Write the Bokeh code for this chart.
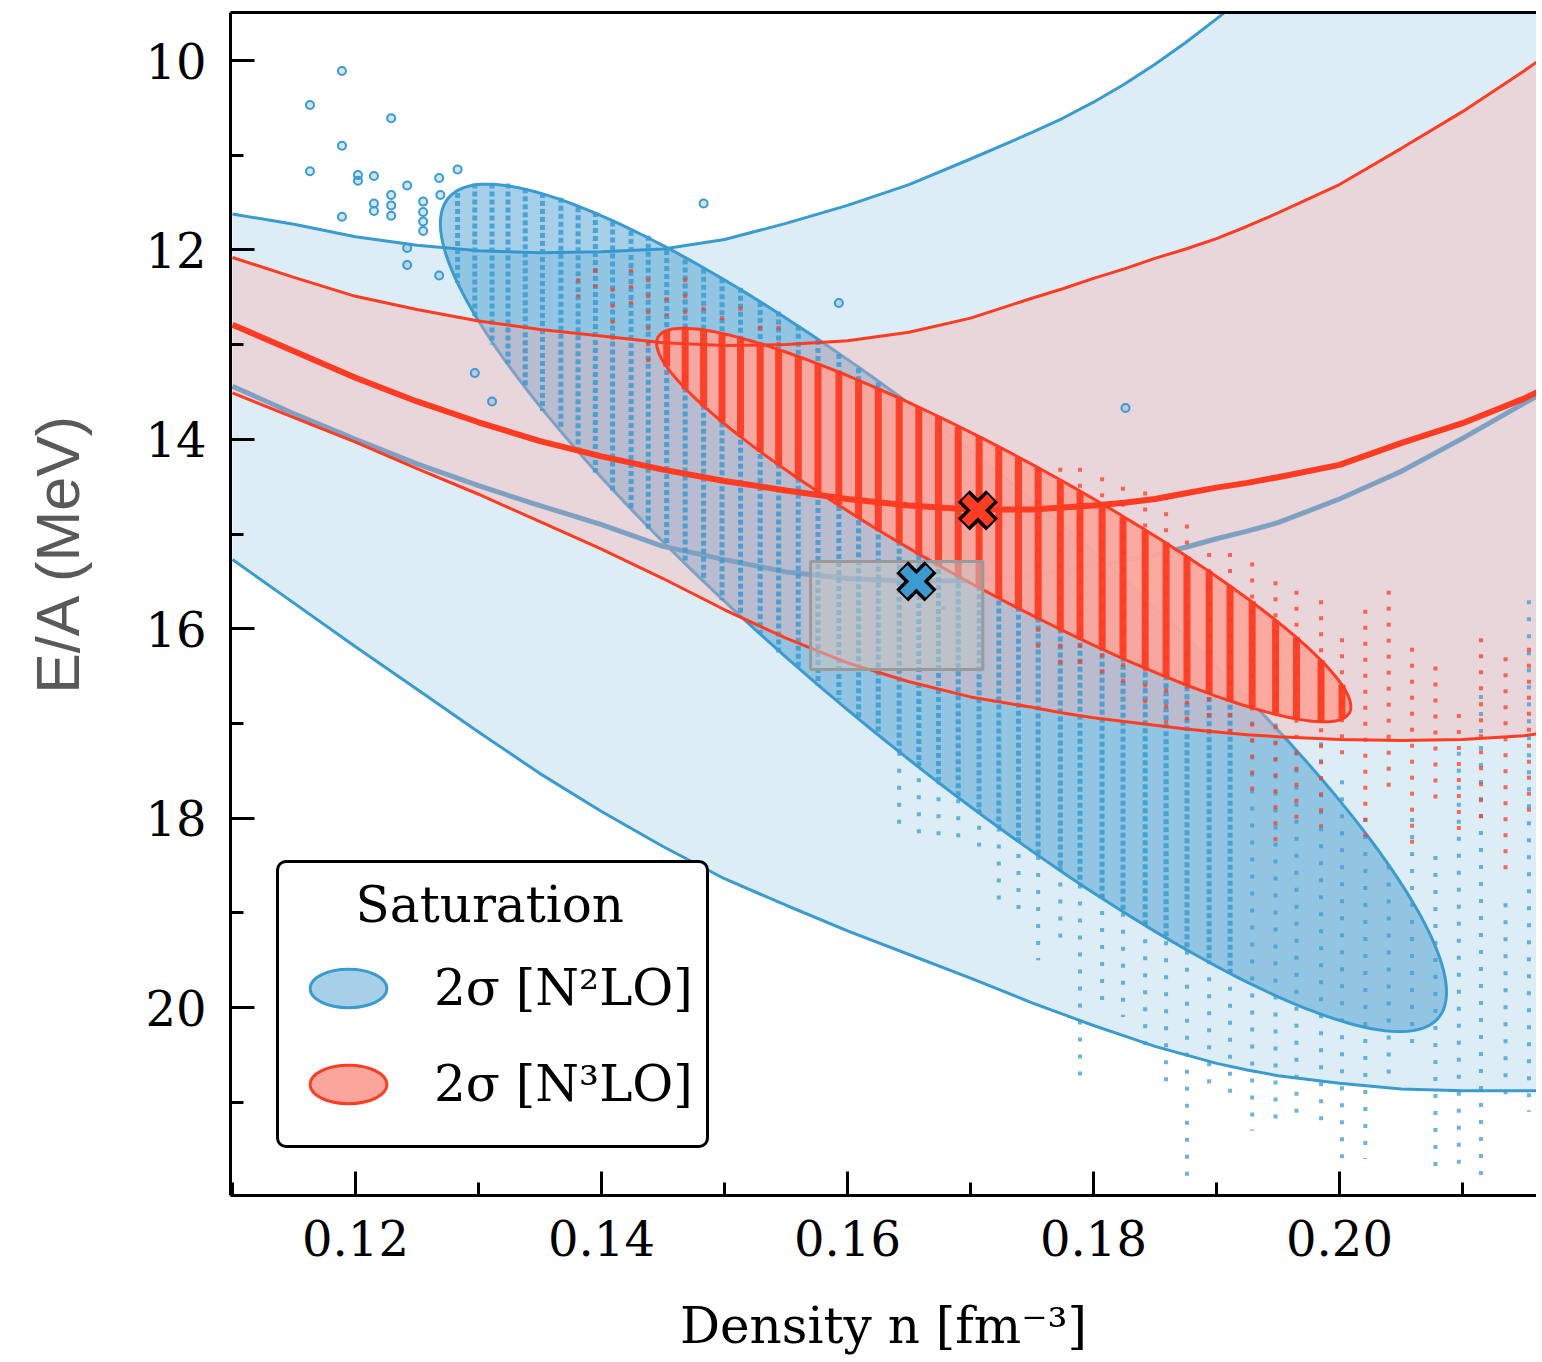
import numpy as np
from bokeh.plotting import figure
from bokeh.models import (Range1d, FixedTicker, NumeralTickFormatter, LinearAxis,
                          Legend, LegendItem)
from bokeh.embed import file_html
from bokeh.resources import INLINE

# ---------------- data ----------------
# density grid (fm^-3) for the equation-of-state bands
n_grid = [0.110, 0.115, 0.120, 0.125, 0.130, 0.135, 0.140, 0.145, 0.150, 0.155, 0.160,
          0.165, 0.170, 0.175, 0.1775, 0.180, 0.1825, 0.185, 0.1875, 0.190, 0.1925, 0.195,
          0.200, 0.205, 0.210, 0.215, 0.2161]
# |E/A| (MeV); values beyond the top of the frame are above 9.5
n2lo_upper = [11.62, 11.73, 11.86, 11.95, 12.01, 12.03, 12.02, 11.99, 11.89, 11.72, 11.53,
              11.31, 11.04, 10.76, 10.61, 10.44, 10.25, 10.04, 9.81, 9.56, 9.30, 9.03,
              8.40, 7.70, 6.90, 6.00, 5.80]
n2lo_lower = [15.27, 15.73, 16.19, 16.64, 17.09, 17.53, 17.93, 18.30, 18.64, 18.92, 19.19,
              19.44, 19.69, 19.95, 20.07, 20.19, 20.30, 20.41, 20.50, 20.59, 20.66, 20.72,
              20.80, 20.86, 20.88, 20.88, 20.88]
n2lo_central = [13.44, 13.73, 14.00, 14.26, 14.49, 14.70, 14.90, 15.13, 15.27, 15.40, 15.47,
                15.50, 15.49, 15.44, 15.39, 15.34, 15.28, 15.22, 15.14, 15.05, 14.97, 14.88,
                14.63, 14.34, 13.99, 13.62, 13.54]
n3lo_upper = [12.08, 12.29, 12.49, 12.63, 12.75, 12.84, 12.91, 12.98, 13.01, 13.00, 12.96,
              12.87, 12.72, 12.51, 12.41, 12.30, 12.20, 12.09, 11.99, 11.88, 11.75, 11.61,
              11.31, 10.93, 10.54, 10.11, 10.01]
n3lo_lower = [13.51, 13.77, 14.03, 14.31, 14.58, 14.87, 15.16, 15.47, 15.80, 16.10, 16.36,
              16.56, 16.72, 16.83, 16.89, 16.94, 16.98, 17.02, 17.06, 17.09, 17.12, 17.14,
              17.17, 17.18, 17.17, 17.13, 17.11]
n3lo_central = [12.79, 13.07, 13.35, 13.60, 13.82, 14.02, 14.18, 14.32, 14.44, 14.54, 14.63,
                14.70, 14.74, 14.74, 14.72, 14.70, 14.67, 14.63, 14.57, 14.51, 14.46, 14.40,
                14.27, 14.04, 13.83, 13.57, 13.50]

# saturation 2-sigma ellipses: centre, standard deviations, correlation
sat_n2lo = dict(n=0.1678, E=15.78, sn=0.02045, sE=2.237, rho=0.907)
sat_n3lo = dict(n=0.1727, E=14.905, sn=0.01411, sE=1.039, rho=0.923)

# saturation points (minimum of the central curves)
sat_point_n = [0.1656, 0.1706]
sat_point_E = [15.50, 14.75]

# empirical saturation box
emp_n = [0.157, 0.171]
emp_E = [15.29, 16.43]

# sampled points, drawn as columns (density grid, E/A extent)
blue_dense_n = [0.1283, 0.1297, 0.1311, 0.1324, 0.1338, 0.1352, 0.1367, 0.1381, 0.1395, 0.1409,
                0.1424, 0.1438, 0.1453, 0.1468, 0.1483, 0.1498, 0.1513, 0.1529, 0.1544, 0.1560,
                0.1576, 0.1593, 0.1609, 0.1625, 0.1642, 0.1658, 0.1674, 0.1690, 0.1707, 0.1723,
                0.1739, 0.1755, 0.1773, 0.1789, 0.1807, 0.1824, 0.1842, 0.1859, 0.1876, 0.1894,
                0.1911]
blue_dense_top = [11.40, 11.30, 11.30, 11.30, 11.35, 11.40, 11.45, 11.55, 11.60, 11.70,
                  11.80, 11.85, 12.00, 12.10, 12.20, 12.30, 12.40, 12.55, 12.65, 12.80,
                  12.95, 13.10, 13.25, 13.40, 13.55, 13.70, 13.85, 14.00, 14.20, 14.35,
                  14.50, 14.70, 14.90, 15.05, 15.25, 15.45, 15.70, 15.90, 16.10, 16.30,
                  16.55]
blue_dense_bot = [12.35, 12.70, 13.00, 13.20, 13.45, 13.70, 13.90, 14.15, 14.35, 14.55,
                  14.75, 14.95, 15.10, 15.30, 15.50, 15.70, 15.85, 16.05, 16.25, 16.40,
                  16.60, 16.75, 16.95, 17.10, 17.30, 17.45, 17.60, 17.80, 17.95, 18.10,
                  18.25, 18.40, 18.55, 18.70, 18.85, 19.00, 19.15, 19.25, 19.40, 19.50,
                  19.65]

blue_sparse_n = [0.1642, 0.1658, 0.1674, 0.1690, 0.1707, 0.1723, 0.1739, 0.1755, 0.1773,
                 0.1789, 0.1807, 0.1824, 0.1842, 0.1859, 0.1876, 0.1894, 0.1911, 0.1929,
                 0.1948, 0.1965, 0.1985, 0.2002, 0.2021, 0.2040, 0.2059, 0.2078, 0.2097,
                 0.2115, 0.2135, 0.2154]
blue_sparse_top = [17.30, 17.40, 17.60, 17.80, 17.90, 18.10, 18.20, 18.40, 18.50,
                   18.70, 18.80, 19.00, 19.10, 19.30, 19.40, 19.50, 19.60, 16.80,
                   17.00, 17.30, 17.20, 17.60, 18.00, 18.50, 18.00, 18.40, 17.30,
                   16.70, 18.90, 15.70]
blue_sparse_bot = [18.10, 18.20, 18.20, 18.30, 18.30, 18.90, 19.00, 19.50, 19.30,
                   20.80, 20.00, 20.10, 20.40, 20.80, 21.90, 20.80, 20.90, 21.30,
                   21.30, 21.20, 21.30, 21.70, 21.60, 20.70, 20.50, 21.80, 21.70,
                   21.90, 21.00, 21.10]

blue_out_n = [0.1189, 0.1163, 0.1229, 0.1189, 0.1163, 0.1202, 0.1202, 0.1215, 0.1189,
              0.1215, 0.1215, 0.1229, 0.1229, 0.1229, 0.1242, 0.1255, 0.1255, 0.1255,
              0.1255, 0.1268, 0.1269, 0.1242, 0.1242, 0.1268, 0.1283, 0.1483, 0.1593,
              0.1826, 0.1311, 0.1297]
blue_out_E = [10.11, 10.47, 10.61, 10.90, 11.17, 11.21, 11.27, 11.22, 11.65,
              11.51, 11.59, 11.42, 11.53, 11.64, 11.32, 11.49, 11.60, 11.70,
              11.80, 11.24, 11.42, 11.98, 12.16, 12.27, 11.15, 11.51, 12.56,
              13.67, 13.60, 13.30]

red_dense_n = [0.1453, 0.1468, 0.1483, 0.1498, 0.1513, 0.1529, 0.1544, 0.1560, 0.1576, 0.1593,
               0.1609, 0.1625, 0.1642, 0.1658, 0.1674, 0.1690, 0.1707, 0.1723, 0.1739, 0.1755,
               0.1773, 0.1789, 0.1807, 0.1824, 0.1842, 0.1859, 0.1876, 0.1894, 0.1911, 0.1929,
               0.1948, 0.1965, 0.1985, 0.2002]
red_dense_top = [12.85, 12.83, 12.85, 12.88, 12.93, 12.99, 13.05, 13.12, 13.20, 13.29,
                 13.37, 13.46, 13.57, 13.66, 13.76, 13.87, 13.97, 14.08, 14.19, 14.30,
                 14.43, 14.55, 14.68, 14.82, 14.96, 15.09, 15.24, 15.39, 15.55, 15.71,
                 15.91, 16.09, 16.33, 16.59]
red_dense_bot = [13.23, 13.47, 13.65, 13.82, 13.97, 14.13, 14.27, 14.42, 14.56, 14.69,
                 14.83, 14.96, 15.09, 15.22, 15.34, 15.45, 15.57, 15.68, 15.79, 15.90,
                 16.01, 16.11, 16.22, 16.32, 16.42, 16.51, 16.60, 16.69, 16.77, 16.83,
                 16.91, 16.95, 16.99, 16.95]

red_sparse_n = [0.1381, 0.1395, 0.1409, 0.1424, 0.1438, 0.1453, 0.1468, 0.1483, 0.1498,
                0.1513, 0.1529, 0.1544,
                0.1755, 0.1773, 0.1789, 0.1807, 0.1824, 0.1842, 0.1859, 0.1876, 0.1894,
                0.1911, 0.1929, 0.1948, 0.1965, 0.1985, 0.2002, 0.2021, 0.2040, 0.2059,
                0.2078, 0.2097, 0.2115, 0.2135, 0.2154]
red_sparse_top = [12.30, 12.20, 12.40, 12.20, 12.30, 12.50, 12.30, 12.60, 12.70,
                  12.60, 12.80, 12.80,
                  14.30, 14.30, 14.30, 14.40, 14.50, 14.55, 14.60, 14.90, 15.20,
                  15.20, 15.30, 15.50, 15.60, 15.70, 16.10, 15.80, 15.60, 16.20,
                  16.40, 16.90, 16.10, 16.30, 16.20]
red_sparse_bot = [12.50, 12.40, 13.00, 12.70, 13.20, 12.70, 13.40, 12.70, 13.00,
                  12.70, 12.90, 13.00,
                  16.20, 16.40, 16.40, 16.60, 16.70, 16.80, 17.00, 17.00, 17.10,
                  17.20, 17.80, 18.30, 18.10, 18.10, 17.40, 18.20, 17.70, 18.40,
                  17.90, 18.20, 18.10, 18.60, 18.00]

x_ticks = [0.12, 0.14, 0.16, 0.18, 0.20]
x_minor = [0.11, 0.13, 0.15, 0.17, 0.19, 0.21]
y_ticks = [10, 12, 14, 16, 18, 20]
y_minor = [11, 13, 15, 17, 19, 21]

# ---------------- styles ----------------
BLUE = "#3a9bd1"
RED = "#ff3b22"
LIGHT_BLUE = "#dcedf5"
PINK = "#ffaba8"
SERIF = "DejaVu Serif"


def ellipse_outline(c, k=2.0, m=240):
    t = np.linspace(0.0, 2.0 * np.pi, m)
    cov = np.array([[c["sn"] ** 2, c["rho"] * c["sn"] * c["sE"]],
                    [c["rho"] * c["sn"] * c["sE"], c["sE"] ** 2]])
    L = np.linalg.cholesky(cov)
    pts = k * (L @ np.vstack([np.cos(t), np.sin(t)]))
    return c["n"] + pts[0], c["E"] + pts[1]


p = figure(width=1536, height=1358, output_backend="svg", toolbar_location=None,
           x_range=Range1d(0.109837, 0.216016), y_range=Range1d(21.985, 9.493),
           min_border_left=230, min_border_right=0, min_border_top=12, min_border_bottom=163)
p.outline_line_color = None
p.grid.visible = False
p.background_fill_color = "white"
p.border_fill_color = "white"

# N2LO band
p.varea(x=n_grid, y1=n2lo_upper, y2=n2lo_lower, fill_color=LIGHT_BLUE, fill_alpha=1.0)
p.line(n_grid, n2lo_upper, line_color=BLUE, line_width=3)
p.line(n_grid, n2lo_lower, line_color=BLUE, line_width=3)

# legend proxies (tiny, at the ellipse centres)
proxy_b = p.ellipse(x=[sat_n2lo["n"]], y=[sat_n2lo["E"]], width=2, height=1,
                    width_units="screen", height_units="screen",
                    fill_color="#2c90c8", fill_alpha=0.42, line_color=BLUE, line_width=3)
proxy_r = p.ellipse(x=[sat_n3lo["n"]], y=[sat_n3lo["E"]], width=2, height=1,
                    width_units="screen", height_units="screen",
                    fill_color="#fba69c", fill_alpha=1.0, line_color=RED, line_width=3)

# N2LO saturation ellipse
bx, by = ellipse_outline(sat_n2lo)
p.patch(bx, by, fill_color="#2c90c8", fill_alpha=0.42, line_color=BLUE, line_width=3)

# N2LO central curve (seen through the N3LO band)
p.line(n_grid, n2lo_central, line_color=BLUE, line_width=5)

# N3LO band
p.varea(x=n_grid, y1=n3lo_upper, y2=n3lo_lower, fill_color=PINK, fill_alpha=0.35)

# blue samples
p.segment(x0=blue_dense_n, y0=blue_dense_top, x1=blue_dense_n, y1=blue_dense_bot,
          line_color=BLUE, line_width=5, line_alpha=0.85, line_dash="5 3")
p.segment(x0=blue_sparse_n, y0=blue_sparse_top, x1=blue_sparse_n, y1=blue_sparse_bot,
          line_color=BLUE, line_width=4, line_alpha=0.75, line_dash="4 13")
p.scatter(blue_out_n, blue_out_E, size=8, marker="circle", line_color=BLUE,
          line_width=2, fill_color=BLUE, fill_alpha=0.25)

# N3LO saturation ellipse
rx, ry = ellipse_outline(sat_n3lo)
p.patch(rx, ry, fill_color="#fba69c", fill_alpha=0.92, line_color=RED, line_width=3)

# N3LO curves
p.line(n_grid, n3lo_upper, line_color=RED, line_width=3)
p.line(n_grid, n3lo_lower, line_color=RED, line_width=3)
p.line(n_grid, n3lo_central, line_color=RED, line_width=6)

# red samples
p.segment(x0=red_dense_n, y0=red_dense_top, x1=red_dense_n, y1=red_dense_bot,
          line_color=RED, line_width=7, line_alpha=0.95)
p.segment(x0=red_sparse_n, y0=red_sparse_top, x1=red_sparse_n, y1=red_sparse_bot,
          line_color=RED, line_width=4, line_alpha=0.75, line_dash="4 12")

# empirical box
p.quad(left=[emp_n[0]], right=[emp_n[1]], top=[emp_E[0]], bottom=[emp_E[1]],
       fill_color="#c4c4c4", fill_alpha=0.55, line_color="#9a9a9a", line_width=3)

# saturation points
p.scatter(sat_point_n, sat_point_E, marker="x", size=40, line_color="black", line_width=17)
p.scatter(sat_point_n, sat_point_E, marker="x", size=36, line_color=[BLUE, RED], line_width=10)

# ---------------- axes ----------------
for ax in (p.xaxis[0], p.yaxis[0]):
    ax.axis_line_width = 3
    ax.axis_line_color = "black"
    ax.major_tick_line_width = 3
    ax.minor_tick_line_width = 3
    ax.major_tick_in = 24
    ax.major_tick_out = 0
    ax.minor_tick_in = 13
    ax.minor_tick_out = 0
    ax.major_label_text_font = SERIF
    ax.major_label_text_font_size = "48px"
    ax.major_label_text_color = "black"

p.xaxis[0].ticker = FixedTicker(ticks=x_ticks, minor_ticks=x_minor)
p.xaxis[0].formatter = NumeralTickFormatter(format="0.00")
p.xaxis[0].major_label_standoff = 24
p.xaxis[0].axis_label = "Density n [fm\u207b\u00b3]"
p.xaxis[0].axis_label_text_font = SERIF
p.xaxis[0].axis_label_text_font_size = "50px"
p.xaxis[0].axis_label_text_font_style = "normal"
p.xaxis[0].axis_label_text_color = "black"
p.xaxis[0].axis_label_standoff = 38

p.yaxis[0].ticker = FixedTicker(ticks=y_ticks, minor_ticks=y_minor)
p.yaxis[0].major_label_standoff = 24
p.yaxis[0].axis_label = "\u00a0\u00a0\u00a0\u00a0\u00a0\u00a0E/A (MeV)"
p.yaxis[0].axis_label_text_font = "Liberation Sans"
p.yaxis[0].axis_label_text_font_size = "61px"
p.yaxis[0].axis_label_text_font_style = "normal"
p.yaxis[0].axis_label_text_color = "#595959"
p.yaxis[0].axis_label_standoff = 50

top_axis = LinearAxis(ticker=FixedTicker(ticks=[]), major_tick_in=0, major_tick_out=0,
                      minor_tick_in=0, minor_tick_out=0, major_label_text_font_size="0px",
                      major_label_standoff=0, axis_label_standoff=0,
                      axis_line_width=3, axis_line_color="black")
p.add_layout(top_axis, "above")

# ---------------- legend ----------------
legend = Legend(items=[LegendItem(label="2σ [N²LO]", renderers=[proxy_b]),
                       LegendItem(label="2σ [N³LO]", renderers=[proxy_r])],
                location=(46, 47),
                title="\u00a0\u00a0\u00a0\u00a0Saturation",
                title_text_font=SERIF, title_text_font_size="50px",
                title_text_font_style="normal", title_text_color="black",
                label_text_font=SERIF, label_text_font_size="50px", label_text_color="black",
                glyph_width=112, glyph_height=96, label_standoff=30,
                padding=13, spacing=0, title_standoff=6, margin=0,
                border_line_color="black", border_line_width=3, border_line_alpha=1.0,
                background_fill_color="white", background_fill_alpha=1.0)
if "border_radius" in Legend.properties():
    legend.border_radius = 10
p.add_layout(legend)

open("out.html", "w").write(file_html(p, INLINE))
